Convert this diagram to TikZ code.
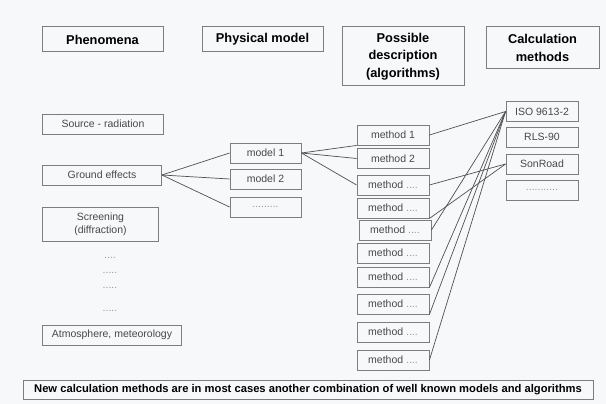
\documentclass[tikz,border=0pt]{standalone}
\usepackage{fontspec}
\setmainfont{Liberation Sans}
\usetikzlibrary{positioning}

\definecolor{bggray}{RGB}{246,248,250}
\definecolor{framegray}{RGB}{125,125,125}
\definecolor{textgray}{RGB}{72,72,72}
\definecolor{dotgray}{RGB}{150,150,150}
\definecolor{linegray}{RGB}{80,80,80}

\tikzset{
  head/.style={draw=framegray,line width=1pt,text=black,align=center,inner sep=0pt,
    font=\bfseries\fontsize{12.8}{17.5}\selectfont},
  item/.style={draw=framegray,line width=0.9pt,text=textgray,align=center,inner sep=0pt,
    minimum height=20pt,font=\fontsize{10.5}{13}\selectfont},
  meth/.style={item,minimum width=72pt},
  dots/.style={text=dotgray,inner sep=0pt,font=\fontsize{10.5}{13}\selectfont},
}

\begin{document}
\begin{tikzpicture}[x=1pt,y=-1pt,on grid,
                    every edge/.style={draw=linegray,line width=0.7pt}]
  \useasboundingbox (0,0) rectangle (606,404);
  \fill[bggray] (0,0) rectangle (606,404);

  % column titles
  \node[head,minimum width=121pt,minimum height=25pt] (phen) at (102.5,39.5) {Phenomena};
  \node[head,minimum width=121pt,minimum height=25pt] (phys) at (262.5,39.5) {Physical model};
  \node[head,minimum width=122pt,minimum height=59pt] (poss) at (403,56.5)
        {Possible\\description\\(algorithms)};
  \node[head,minimum width=113pt,minimum height=42pt] (calc) at (542.5,48) {Calculation\\methods};

  % phenomena
  \node[item,anchor=west,minimum width=121pt] (src)    at (42,124) {Source - radiation};
  \node[item,anchor=west,minimum width=119pt] (ground) at (42,175) {Ground effects};
  \node[item,anchor=west,minimum width=116pt,minimum height=34pt] (screen) at (42,224)
        {Screening\\(diffraction)};
  \node[dots] (d1) at (110,258) {....};
  \node[dots] (d2) at (110,273) {.....};
  \node[dots] (d3) at (110,288) {.....};
  \node[dots] (d4) at (110,311) {.....};
  \node[item,anchor=west,minimum width=139pt] (atmo)   at (42,335) {Atmosphere, meteorology};

  % physical models
  \node[item,minimum width=71pt] (mod1) at (265.5,153) {model 1};
  \node[item,minimum width=71pt] (mod2) [below=26pt of mod1] {model 2};
  \node[item,minimum width=71pt,text=dotgray] (mod3) [below=28pt of mod2] {.........};

  % descriptions
  \node[meth] (m1)  at (393,135) {method 1};
  \node[meth] (m2)  [below=23.5pt of m1] {method 2};
  \node[meth] (m3)  [below=26.5pt of m2] {method \textcolor{dotgray}{....}};
  \node[meth] (m4)  [below=23pt of m3] {method \textcolor{dotgray}{....}};
  \node[meth] (m5)  [below right=22pt and 2pt of m4] {method \textcolor{dotgray}{....}};
  \node[meth] (m6)  [below left=23pt and 2pt of m5] {method \textcolor{dotgray}{....}};
  \node[meth] (m7)  [below=24pt of m6] {method \textcolor{dotgray}{....}};
  \node[meth] (m8)  [below=27pt of m7] {method \textcolor{dotgray}{....}};
  \node[meth] (m9)  [below=28pt of m8] {method \textcolor{dotgray}{....}};
  \node[meth] (m10) [below=28pt of m9] {method \textcolor{dotgray}{....}};

  % calculation methods
  \node[item,minimum width=72pt] (iso)  at (542,111.5) {ISO 9613-2};
  \node[item,minimum width=72pt] (rls)  [below=25.5pt of iso] {RLS-90};
  \node[item,minimum width=72pt] (son)  [below=27pt of rls] {SonRoad};
  \node[item,minimum width=72pt,text=dotgray] (more) [below=26pt of son] {...........};

  \node[draw=framegray,line width=0.9pt,minimum width=570pt,minimum height=19pt,inner sep=0pt,
        font=\bfseries\fontsize{11.2}{13}\selectfont] (note) at (308,389.5)
        {New calculation methods are in most cases another combination of well known models and algorithms};

  \path (ground.east) edge (mod1.west);
  \path (ground.east) edge (mod2.west);
  \path (ground.east) edge (mod3.west);
  \path (mod1.east)   edge (m1.south west);
  \path (mod1.east)   edge (m2.west);
  \path (mod1.east)   edge (m3.west);
  \path (m1.east)     edge (iso.west);
  \path (m5.east)     edge (iso.west);
  \path (m7.south east) edge (iso.west);
  \path (m8.south east) edge (iso.west);
  \path (m10.east)    edge (iso.west);
  \path (m3.east)     edge (son.west);
  \path (m4.south east) edge (son.west);

\end{tikzpicture}
\end{document}
